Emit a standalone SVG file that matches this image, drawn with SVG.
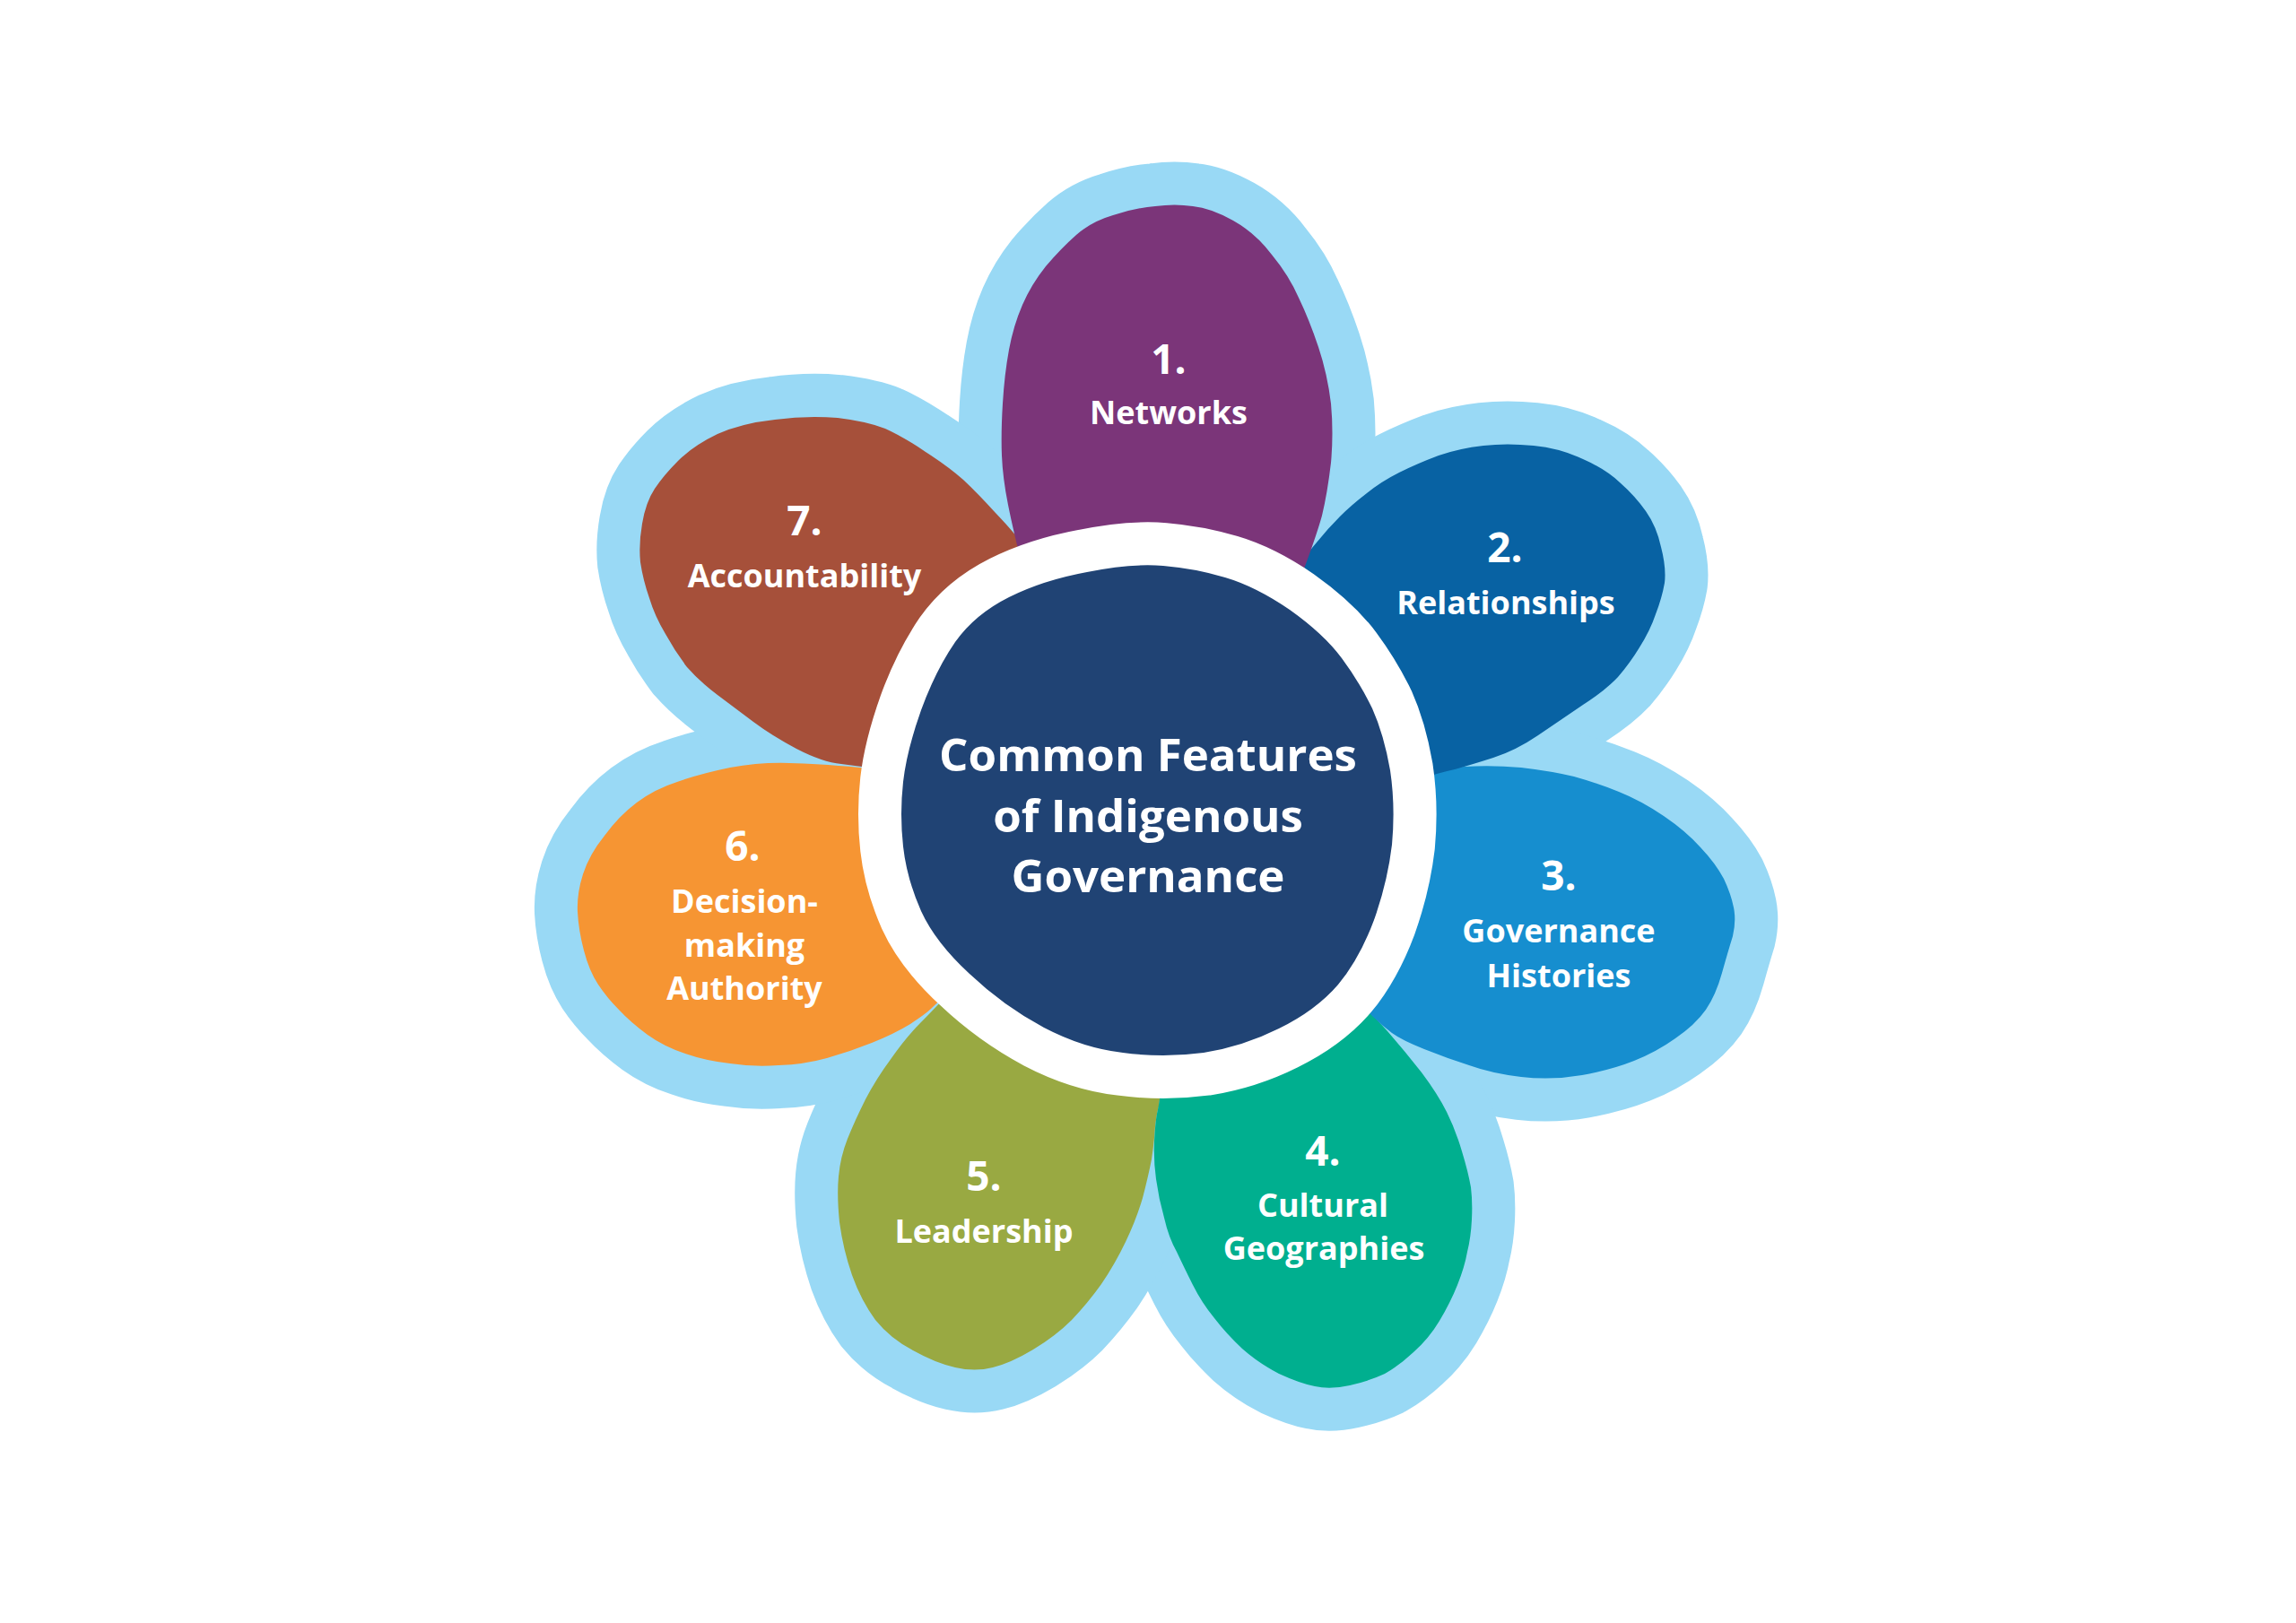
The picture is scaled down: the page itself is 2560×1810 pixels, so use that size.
<svg xmlns="http://www.w3.org/2000/svg" xmlns:xlink="http://www.w3.org/1999/xlink" width="2560" height="1810" viewBox="0 0 2560 1810">
<style>
.ol{fill:#99D9F5;stroke:#99D9F5;stroke-width:96;stroke-linejoin:round}
.num{font-family:"Open Sans","Liberation Sans",sans-serif;font-weight:700;font-size:46px;fill:#FFFFFF;text-anchor:middle}
.lbl{font-family:"Open Sans","Liberation Sans",sans-serif;font-weight:700;font-size:36px;fill:#FFFFFF;text-anchor:middle}
.title{font-family:"Open Sans","Liberation Sans",sans-serif;font-weight:700;font-size:51px;fill:#FFFFFF;text-anchor:middle}
</style>
<defs>
<path id="p1" d="M1142,640 Q1130,593 1124,563 Q1118,533 1117,508 Q1116,483 1118,450 Q1120,417 1125,390 Q1130,363 1140,340 Q1150,317 1166,297 Q1183,277 1200,262 Q1217,247 1241,240 Q1265,232 1288,230 Q1310,227 1330,230 Q1350,232 1375,246 Q1400,260 1418,284 Q1437,307 1448,332 Q1460,357 1470,387 Q1480,417 1484,450 Q1487,483 1484,516 Q1480,550 1474,575 Q1467,600 1450,645 L1380,700 L1200,700 Z"/>
<path id="p2" d="M1430,655 Q1455,620 1468,605 Q1480,590 1494,576 Q1507,563 1524,550 Q1540,537 1560,527 Q1580,517 1604,508 Q1627,500 1654,497 Q1680,494 1710,497 Q1740,500 1765,512 Q1790,523 1806,538 Q1823,553 1835,570 Q1847,587 1852,610 Q1858,633 1856,650 Q1853,667 1846,685 Q1840,703 1828,722 Q1817,740 1804,755 Q1790,770 1765,786 Q1740,803 1715,820 Q1690,837 1665,845 Q1640,853 1622,858 Q1603,862 1580,870 L1450,850 L1400,720 Z"/>
<path id="p3" d="M1580,860 Q1603,857 1633,855 Q1663,853 1696,856 Q1730,860 1755,866 Q1780,873 1805,883 Q1830,893 1855,910 Q1880,927 1896,945 Q1913,963 1922,980 Q1930,997 1933,1012 Q1936,1027 1932,1044 Q1927,1060 1920,1085 Q1913,1110 1902,1126 Q1890,1143 1868,1158 Q1847,1173 1822,1183 Q1797,1193 1764,1199 Q1730,1205 1696,1201 Q1663,1197 1638,1188 Q1613,1180 1588,1170 Q1563,1160 1552,1152 Q1540,1143 1530,1133 Q1520,1123 1500,1105 L1450,1000 L1540,900 Z"/>
<path id="p4" d="M1505,1110 Q1527,1127 1547,1150 Q1567,1173 1585,1196 Q1603,1220 1613,1240 Q1623,1260 1630,1284 Q1637,1307 1640,1324 Q1642,1340 1641,1360 Q1640,1380 1636,1396 Q1633,1413 1625,1433 Q1617,1453 1605,1473 Q1593,1493 1576,1508 Q1560,1523 1544,1532 Q1527,1540 1505,1545 Q1483,1550 1466,1546 Q1450,1543 1426,1532 Q1403,1520 1385,1504 Q1367,1487 1354,1470 Q1340,1453 1330,1433 Q1320,1413 1312,1396 Q1303,1380 1298,1358 Q1292,1337 1289,1315 Q1286,1293 1287,1273 Q1288,1253 1290,1242 Q1293,1230 1296,1200 Z"/>
<path id="p5" d="M1296,1200 Q1293,1228 1292,1234 Q1290,1240 1288,1256 Q1287,1273 1284,1293 Q1280,1313 1274,1336 Q1267,1360 1255,1385 Q1243,1410 1228,1432 Q1213,1453 1195,1472 Q1177,1490 1152,1505 Q1127,1520 1107,1525 Q1087,1530 1065,1525 Q1043,1520 1018,1506 Q993,1493 976,1472 Q960,1450 950,1422 Q940,1393 936,1363 Q933,1333 935,1312 Q937,1290 945,1270 Q953,1250 965,1226 Q977,1203 994,1180 Q1010,1157 1026,1141 Q1042,1125 1065,1100 Z"/>
<path id="p6" d="M1065,1100 Q1043,1120 1038,1125 Q1033,1130 1015,1142 Q997,1153 972,1163 Q947,1173 922,1180 Q897,1187 868,1188 Q840,1190 814,1186 Q787,1183 764,1175 Q740,1167 722,1154 Q703,1140 690,1126 Q677,1113 667,1098 Q657,1083 651,1060 Q645,1037 644,1017 Q643,997 650,975 Q657,953 674,932 Q690,910 710,895 Q730,880 755,872 Q780,863 814,856 Q847,850 880,851 Q913,852 935,854 Q957,855 985,860 Z"/>
<path id="p7" d="M985,858 Q960,855 938,852 Q917,850 888,835 Q860,820 840,805 Q820,790 800,775 Q780,760 766,744 Q753,727 742,707 Q730,687 724,667 Q717,647 714,627 Q712,607 716,584 Q720,560 730,545 Q740,530 756,514 Q773,497 800,484 Q827,472 864,468 Q900,463 934,466 Q967,470 987,478 Q1007,487 1032,504 Q1057,520 1074,535 Q1090,550 1110,572 Q1130,593 1136,602 Q1142,610 1160,640 Z"/>
<path id="core" d="M1212,638 Q1261,628 1297,631 Q1333,634 1366,644 Q1400,654 1438,680 Q1476,707 1496,734 Q1516,761 1530,790 Q1543,819 1550,859 Q1556,899 1552,942 Q1547,984 1532,1026 Q1516,1069 1492,1098 Q1467,1127 1426,1147 Q1386,1167 1342,1174 Q1297,1180 1252,1174 Q1208,1169 1164,1146 Q1119,1122 1081,1086 Q1043,1051 1027,1016 Q1011,980 1007,944 Q1003,908 1007,872 Q1011,837 1027,792 Q1043,748 1065,716 Q1087,685 1125,666 Q1163,647 1212,638 Z"/>
</defs>
<rect x="0" y="0" width="2560" height="1810" fill="#FFFFFF"/>
<g id="outlines">
<use href="#p1" class="ol"/>
<use href="#p2" class="ol"/>
<use href="#p3" class="ol"/>
<use href="#p4" class="ol"/>
<use href="#p5" class="ol"/>
<use href="#p6" class="ol"/>
<use href="#p7" class="ol"/>
</g>
<g id="petal-6">
<use href="#p6" fill="#F69533"/>
<text class="num" x="828" y="960">6.</text>
<text class="lbl" x="830" y="1018">Decision-</text>
<text class="lbl" x="830" y="1067">making</text>
<text class="lbl" x="830" y="1115">Authority</text>
</g>
<g id="petal-7">
<use href="#p7" fill="#A6503A"/>
<text class="num" x="897" y="597">7.</text>
<text class="lbl" x="897" y="655">Accountability</text>
</g>
<g id="petal-5">
<use href="#p5" fill="#99A942"/>
<text class="num" x="1097" y="1328">5.</text>
<text class="lbl" x="1097" y="1386">Leadership</text>
</g>
<g id="petal-4">
<use href="#p4" fill="#00AF8F"/>
<text class="num" x="1475" y="1300">4.</text>
<text class="lbl" x="1475" y="1357">Cultural</text>
<text class="lbl" x="1476" y="1405">Geographies</text>
</g>
<g id="petal-3">
<use href="#p3" fill="#168ECF"/>
<text class="num" x="1738" y="993">3.</text>
<text class="lbl" x="1738" y="1051">Governance</text>
<text class="lbl" x="1738" y="1101">Histories</text>
</g>
<g id="petal-2">
<use href="#p2" fill="#0862A3"/>
<text class="num" x="1678" y="627">2.</text>
<text class="lbl" x="1679" y="685">Relationships</text>
</g>
<g id="petal-1">
<use href="#p1" fill="#7B3579"/>
<text class="num" x="1303" y="417">1.</text>
<text class="lbl" x="1303" y="473">Networks</text>
</g>
<g id="center">
<use href="#core" fill="#FFFFFF" stroke="#FFFFFF" stroke-width="96" stroke-linejoin="round"/>
<use href="#core" fill="#204374"/>
<text class="title" x="1280" y="860">Common Features</text>
<text class="title" x="1280" y="928">of Indigenous</text>
<text class="title" x="1280" y="995">Governance</text>
</g>
</svg>
